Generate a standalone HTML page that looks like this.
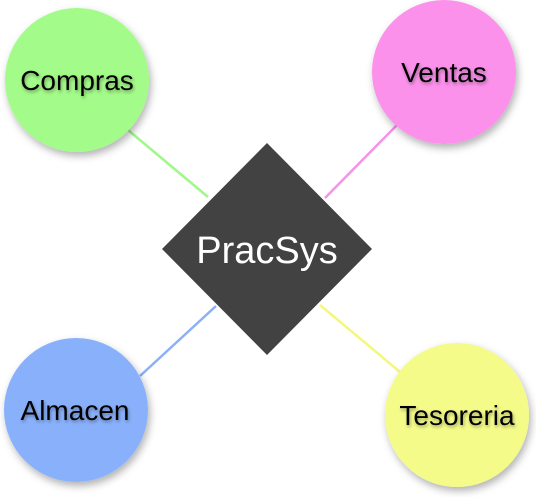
<!DOCTYPE html>
<html><head><meta charset="utf-8"><style>
html,body{margin:0;padding:0;background:#fff;width:536px;height:497px;overflow:hidden}
svg{display:block}
text{font-family:"Liberation Sans",sans-serif}
</style></head><body>
<svg width="536" height="497" viewBox="0 0 536 497">
<defs>
<filter id="sh" x="-30%" y="-30%" width="160%" height="160%"><feDropShadow dx="2" dy="4" stdDeviation="4" flood-color="#000" flood-opacity="0.3"/></filter>
<filter id="ts" x="-10%" y="-30%" width="120%" height="160%"><feDropShadow dx="1" dy="2" stdDeviation="1.5" flood-color="#000" flood-opacity="0.35"/></filter>
</defs>
<line x1="128" y1="130" x2="208" y2="197" stroke="#a0f78a" stroke-width="2.5"/>
<line x1="397" y1="125" x2="325" y2="198" stroke="#f791ea" stroke-width="2.5"/>
<line x1="140" y1="376" x2="216" y2="306" stroke="#8ab0f7" stroke-width="2.5"/>
<line x1="400" y1="372" x2="320" y2="305" stroke="#f4f77c" stroke-width="2.5"/>
<circle cx="77" cy="80" r="72" fill="#a3fb89" filter="url(#sh)"/>
<circle cx="444" cy="72" r="72" fill="#fb91eb" filter="url(#sh)"/>
<circle cx="76" cy="410" r="72" fill="#89b1fb" filter="url(#sh)"/>
<circle cx="457" cy="415" r="72" fill="#f4fb89" filter="url(#sh)"/>
<polygon points="267,143 372,249 267,355 162,249" fill="#424242"/>
<g font-size="28" fill="#000" text-anchor="middle" filter="url(#ts)">
<text x="77" y="90">Compras</text>
<text x="444" y="82">Ventas</text>
<text x="75" y="420">Almacen</text>
<text x="457" y="425">Tesoreria</text>
</g>
<text x="267" y="263" font-size="38" fill="#fff" text-anchor="middle">PracSys</text>
</svg>
</body></html>
